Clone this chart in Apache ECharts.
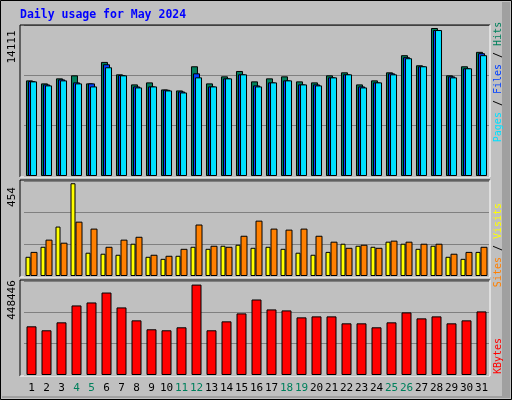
<!DOCTYPE html>
<html><head><meta charset="utf-8">
<script src="https://cdn.jsdelivr.net/npm/echarts@6/dist/echarts.min.js"></script>
<style>html,body{margin:0;padding:0;background:#c0c0c0}#c{width:512px;height:400px}</style>
</head><body><div id="c"></div>
<script>
const days = Array.from({length:31},(_,i)=>String(i+1));
const weekends = ['4','5','11','12','18','19','25','26'];
const hits  = [9120,8832,9312,9600,8832,10880,9696,8736,8928,8256,8160,10464,8832,9504,10016,9024,9312,9504,9024,8928,9600,9888,8736,9120,9888,11520,10560,14111,9600,10464,11840];
const files = [9056,8736,9216,8928,8832,10656,9632,8544,8544,8224,8064,9792,8544,9312,9696,8640,8928,9120,8736,8736,9408,9696,8544,8928,9792,11328,10464,13920,9504,10272,11712];
const pages = [9024,8640,9120,8832,8544,10368,9600,8448,8544,8160,7968,9408,8544,9312,9696,8544,8928,9120,8736,8640,9408,9696,8448,8928,9696,11232,10464,13920,9408,10272,11520];
const visits = [94,143,242,454,114,109,104,158,94,84,99,143,133,148,153,138,143,133,114,104,118,158,148,143,168,158,133,148,94,84,118];
const sites  = [118,178,163,266,232,143,178,192,104,99,133,252,148,143,197,271,232,227,232,197,168,138,153,138,173,168,158,158,109,118,143];
const kbytes = [241462,221751,261173,344946,359729,409007,335090,271029,226679,221751,236534,448446,221751,266101,305524,374513,325234,320307,285812,290740,290740,256246,256246,236534,261173,310451,280885,290740,256246,271029,315379];
const maxLabels = ['14111','454','448446'];

const chart = echarts.init(document.getElementById('c'));
const F = 'DejaVu Sans Mono, monospace';
const grids = [
  {left:24,width:465,top:25,height:151},
  {left:24,width:465,top:181,height:95},
  {left:24,width:465,top:281,height:94}
];
const yMax = [14400,465,466200];
const xAxes = grids.map((g,i)=>({
  type:'category', gridIndex:i, data:days, axisLine:{show:false}, axisTick:{show:false},
  axisLabel: i<2 ? {show:false} : {show:true, interval:0, margin:8, fontFamily:F, fontSize:11,
    color:(v)=>weekends.includes(v)?'#00805c':'#000'}
}));
const yAxes = grids.map((g,i)=>({
  type:'value', gridIndex:i, min:0, max:yMax[i], interval:yMax[i]/3,
  axisLabel:{show:false}, axisLine:{show:false}, axisTick:{show:false},
  splitLine:{show:true, lineStyle:{color:'#808080', width:1}}
}));
const bs = (name,data,color,xi,w,gap)=>({
  type:'bar', name, data, xAxisIndex:xi, yAxisIndex:xi, barWidth:w, barGap:gap,
  itemStyle:{color, borderColor:'#000', borderWidth:1}, animation:false, silent:true
});
const series = [
  bs('Hits',hits,'#00805c',0,7,'-71%'),
  bs('Files',files,'#0040ff',0,7,'-71%'),
  bs('Pages',pages,'#00e0ff',0,7,'-71%'),
  bs('Visits',visits,'#ffff00',1,5,'0%'),
  bs('Sites',sites,'#ff8000',1,7,'0%'),
  bs('KBytes',kbytes,'#ff0000',2,10,'0%')
];
const panels = [[20,25,470,152],[20,180,470,97],[20,280,470,96]];
const graphic = [];
panels.forEach(p=>{
  graphic.push({type:'rect', z:-10, shape:{x:p[0],y:p[1],width:p[2],height:p[3]}, style:{fill:'#c0c0c0'}});
  graphic.push({type:'polyline', z:100, shape:{points:[[p[0],p[1]+p[3]],[p[0],p[1]],[p[0]+p[2],p[1]]]}, style:{stroke:'#000',lineWidth:1,fill:null}});
  graphic.push({type:'polyline', z:100, shape:{points:[[p[0]+p[2],p[1]],[p[0]+p[2],p[1]+p[3]],[p[0],p[1]+p[3]]]}, style:{stroke:'#fff',lineWidth:1,fill:null}});
});
graphic.push({type:'rect', z:100, shape:{x:0.5,y:0.5,width:511,height:399}, style:{stroke:'#000',fill:null,lineWidth:1}});
graphic.push({type:'rect', z:99, shape:{x:502,y:2,width:8,height:396}, style:{fill:'#a0a0a0'}});
graphic.push({type:'rect', z:99, shape:{x:2,y:396,width:508,height:2}, style:{fill:'#a0a0a0'}});
graphic.push({type:'text', z:100, x:20, y:9, style:{text:'Daily usage for May 2024', fill:'#0000ff', font:'bold 11.5px '+F}});
[[47,0],[197,1],[300,2]].forEach(([y,i])=>{
  graphic.push({type:'text', z:100, x:12, y:y, rotation:Math.PI/2, style:{text:maxLabels[i], fill:'#000', font:'11px '+F, align:'center', verticalAlign:'middle'}});
});
const rf = '10px '+F;
graphic.push({type:'text', z:100, x:498, y:82, rotation:Math.PI/2, style:{
  text:'{p|Pages} / {f|Files} / {h|Hits}', font:rf, fill:'#000', align:'center', verticalAlign:'middle',
  rich:{p:{fill:'#00e0ff',font:rf},f:{fill:'#0040ff',font:rf},h:{fill:'#00805c',font:rf}}}});
graphic.push({type:'text', z:100, x:498, y:245, rotation:Math.PI/2, style:{
  text:'{s|Sites} / {v|Visits}', font:rf, fill:'#000', align:'center', verticalAlign:'middle',
  rich:{s:{fill:'#ff8000',font:rf},v:{fill:'#ffff00',font:rf}}}});
graphic.push({type:'text', z:100, x:498, y:356, rotation:Math.PI/2, style:{
  text:'KBytes', font:rf, fill:'#ff0000', align:'center', verticalAlign:'middle'}});

chart.setOption({backgroundColor:'#c0c0c0', animation:false, grid:grids, xAxis:xAxes, yAxis:yAxes, series, graphic});
</script></body></html>
